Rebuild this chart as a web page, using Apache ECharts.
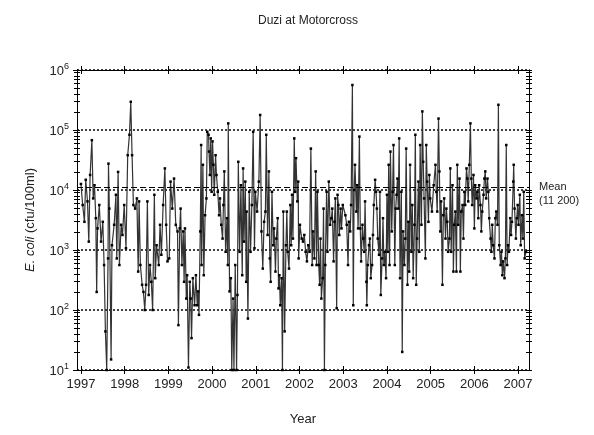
<!DOCTYPE html>
<html>
<head>
<meta charset="utf-8">
<script src="https://cdn.jsdelivr.net/npm/echarts@6/dist/echarts.min.js"></script>
<style>
  html, body { margin: 0; background: #fff; }
  #chart { width: 594px; height: 435px; }
</style>
</head>
<body>
<div id="chart"></div>
<script>
// axis ticks
const yearTicks = [1997, 1998, 1999, 2000, 2001, 2002, 2003, 2004, 2005, 2006, 2007]
const decadeTicks = [10, 100, 1000, 10000, 100000, 1000000]
const meanEcoli = 11200

// E. coli samples, [decimal year, cfu/100ml]
const s1997 = [[1997.00, 12600], [1997.04, 5620], [1997.08, 2950], [1997.11, 14800], [1997.15, 6460], [1997.18, 1380], [1997.21, 17800], [1997.25, 67600], [1997.28, 7240], [1997.31, 12000], [1997.34, 3390], [1997.36, 200], [1997.38, 2290], [1997.42, 5620], [1997.46, 1380], [1997.50, 2950], [1997.53, 562], [1997.56, 44], [1997.59, 10], [1997.62, 724], [1997.63, 27500], [1997.65, 4900], [1997.69, 15], [1997.71, 1200], [1997.76, 2630], [1997.80, 8320], [1997.82, 724], [1997.85, 20000], [1997.88, 562], [1997.92, 2630], [1997.95, 1780], [1997.99, 5620]]
const s1998 = [[1998.03, 1070], [1998.07, 38000], [1998.11, 83200], [1998.14, 295000], [1998.17, 38000], [1998.20, 5620], [1998.24, 4900], [1998.28, 7240], [1998.31, 437], [1998.33, 6460], [1998.36, 562], [1998.40, 263], [1998.43, 200], [1998.46, 100], [1998.49, 263], [1998.52, 6460], [1998.55, 178], [1998.58, 562], [1998.61, 295], [1998.64, 100], [1998.68, 8320], [1998.70, 339], [1998.73, 1200], [1998.78, 562], [1998.81, 2630], [1998.84, 832], [1998.88, 5620], [1998.92, 22900], [1998.95, 2630], [1998.98, 646]]
const s1999 = [[1999.02, 724], [1999.05, 13800], [1999.09, 4900], [1999.13, 15500], [1999.17, 2630], [1999.21, 2040], [1999.23, 56], [1999.26, 2290], [1999.28, 4900], [1999.31, 562], [1999.34, 2040], [1999.36, 295], [1999.38, 2290], [1999.41, 155], [1999.43, 380], [1999.46, 11], [1999.49, 295], [1999.51, 155], [1999.53, 34], [1999.56, 339], [1999.60, 120], [1999.63, 380], [1999.66, 120], [1999.68, 204], [1999.70, 83], [1999.73, 2040], [1999.75, 56200], [1999.76, 562], [1999.79, 26300], [1999.81, 380], [1999.84, 3800], [1999.87, 7240], [1999.89, 93300], [1999.92, 83200], [1999.93, 43700], [1999.95, 17800], [1999.97, 72400], [1999.99, 9330]]
const s2000 = [[2000.01, 64600], [2000.03, 26300], [2000.05, 8320], [2000.08, 38000], [2000.10, 17800], [2000.13, 9330], [2000.16, 3800], [2000.18, 7240], [2000.21, 2630], [2000.24, 1550], [2000.26, 5620], [2000.28, 20400], [2000.31, 933], [2000.34, 3390], [2000.36, 562], [2000.37, 129000], [2000.40, 204], [2000.43, 339], [2000.45, 10], [2000.48, 155], [2000.50, 10], [2000.53, 562], [2000.56, 10], [2000.58, 178], [2000.60, 29500], [2000.63, 933], [2000.66, 12000], [2000.69, 380], [2000.71, 22900], [2000.73, 1380], [2000.76, 13800], [2000.78, 295], [2000.79, 4370], [2000.82, 72], [2000.85, 9330], [2000.88, 933], [2000.91, 5620], [2000.94, 93300], [2000.97, 1070], [2000.99, 9330]]
const s2001 = [[2001.03, 4370], [2001.07, 13800], [2001.10, 178000], [2001.13, 2040], [2001.16, 490], [2001.19, 2950], [2001.22, 4370], [2001.24, 83200], [2001.27, 1780], [2001.30, 20400], [2001.32, 724], [2001.34, 295], [2001.37, 9330], [2001.40, 1200], [2001.42, 2290], [2001.45, 437], [2001.47, 1550], [2001.50, 3390], [2001.52, 229], [2001.54, 380], [2001.56, 120], [2001.59, 339], [2001.61, 10], [2001.63, 4370], [2001.66, 44], [2001.69, 1200], [2001.71, 4370], [2001.73, 933], [2001.76, 490], [2001.79, 5620], [2001.81, 1200], [2001.83, 8320], [2001.85, 1550], [2001.88, 72400], [2001.90, 9330], [2001.92, 33900], [2001.95, 6460], [2001.97, 13800], [2001.98, 724]]
const s2002 = [[2002.01, 2630], [2002.05, 1550], [2002.08, 1380], [2002.11, 1780], [2002.14, 933], [2002.17, 646], [2002.20, 1200], [2002.23, 933], [2002.26, 49000], [2002.29, 562], [2002.31, 2040], [2002.34, 724], [2002.37, 20400], [2002.39, 562], [2002.41, 9330], [2002.44, 562], [2002.46, 263], [2002.48, 1550], [2002.50, 155], [2002.53, 339], [2002.55, 4900], [2002.57, 10], [2002.59, 562], [2002.62, 9330], [2002.64, 933], [2002.67, 13800], [2002.70, 2630], [2002.73, 3390], [2002.75, 4900], [2002.78, 646], [2002.80, 2950], [2002.82, 7240], [2002.85, 107], [2002.87, 8320], [2002.89, 5620], [2002.91, 1780], [2002.94, 4900], [2002.96, 2290], [2002.99, 5620]]
const s2003 = [[2003.05, 3800], [2003.08, 2630], [2003.11, 562], [2003.13, 2950], [2003.16, 2040], [2003.18, 5620], [2003.21, 562000], [2003.23, 120], [2003.25, 10000], [2003.27, 26300], [2003.30, 4370], [2003.32, 12000], [2003.34, 2290], [2003.37, 77600], [2003.39, 2290], [2003.41, 646], [2003.44, 2630], [2003.46, 1550], [2003.48, 933], [2003.50, 6460], [2003.53, 295], [2003.54, 120], [2003.56, 562], [2003.59, 1200], [2003.61, 1550], [2003.63, 339], [2003.66, 562], [2003.68, 1780], [2003.70, 5620], [2003.73, 14800], [2003.75, 9330], [2003.77, 4900], [2003.79, 1550], [2003.82, 832], [2003.84, 9330], [2003.86, 178], [2003.89, 724], [2003.91, 3390], [2003.93, 562], [2003.95, 933], [2003.98, 339], [2004.00, 8320]]
const s2004 = [[2004.02, 933], [2004.04, 26300], [2004.06, 562], [2004.08, 43700], [2004.11, 2040], [2004.13, 9330], [2004.15, 56200], [2004.18, 562], [2004.20, 4900], [2004.22, 8320], [2004.24, 15500], [2004.26, 4900], [2004.28, 72400], [2004.30, 339], [2004.33, 9330], [2004.35, 20], [2004.37, 2040], [2004.40, 562], [2004.42, 1550], [2004.44, 49000], [2004.47, 263], [2004.49, 2950], [2004.51, 437], [2004.53, 26300], [2004.56, 933], [2004.58, 5620], [2004.60, 339], [2004.63, 2630], [2004.65, 83200], [2004.67, 263], [2004.69, 1550], [2004.72, 13800], [2004.74, 933], [2004.76, 56200], [2004.79, 2630], [2004.81, 204000], [2004.83, 29500], [2004.85, 7240], [2004.88, 724], [2004.90, 56200], [2004.92, 13800], [2004.95, 2950], [2004.97, 17800], [2004.99, 7240]]
const s2005 = [[2005.03, 4370], [2005.07, 12000], [2005.11, 26300], [2005.13, 9330], [2005.15, 4370], [2005.18, 155000], [2005.20, 20400], [2005.22, 2040], [2005.24, 6460], [2005.27, 263], [2005.29, 3800], [2005.31, 7240], [2005.34, 1550], [2005.36, 4900], [2005.38, 2950], [2005.40, 933], [2005.43, 1550], [2005.45, 22900], [2005.47, 933], [2005.50, 12000], [2005.52, 437], [2005.54, 2630], [2005.565, 4370], [2005.59, 437], [2005.61, 26300], [2005.63, 2630], [2005.66, 15500], [2005.68, 437], [2005.70, 4370], [2005.73, 5620], [2005.75, 1550], [2005.77, 9330], [2005.79, 5620], [2005.82, 22900], [2005.84, 15500], [2005.86, 6460], [2005.885, 26300], [2005.91, 129000], [2005.93, 15500], [2005.95, 5620], [2005.98, 17800]]
const s2006 = [[2006.00, 2290], [2006.02, 12000], [2006.05, 7240], [2006.07, 9330], [2006.09, 3390], [2006.11, 12000], [2006.14, 5620], [2006.16, 2040], [2006.18, 4370], [2006.21, 8320], [2006.23, 15500], [2006.25, 20400], [2006.27, 7240], [2006.30, 15500], [2006.32, 9330], [2006.34, 3390], [2006.37, 1550], [2006.39, 933], [2006.41, 2630], [2006.43, 1200], [2006.46, 724], [2006.48, 3390], [2006.50, 4370], [2006.53, 2630], [2006.55, 263000], [2006.57, 1200], [2006.60, 562], [2006.62, 933], [2006.64, 380], [2006.66, 646], [2006.69, 339], [2006.71, 724], [2006.73, 56200], [2006.75, 562], [2006.77, 1200], [2006.79, 933], [2006.82, 3390], [2006.84, 1780], [2006.86, 2950], [2006.89, 13800], [2006.90, 26300], [2006.92, 4900], [2006.95, 1550], [2006.97, 3390], [2006.99, 5620]]
const s2007 = [[2007.01, 2630], [2007.04, 8320], [2007.06, 1200], [2007.09, 3800], [2007.11, 1550], [2007.13, 9330], [2007.15, 724], [2007.18, 933]]

const samples = [].concat(s1997, s1998, s1999, s2000, s2001, s2002, s2003, s2004, s2005, s2006, s2007)

// 2..9 minor ticks between decades plus the decades themselves
const logTicks = []
decadeTicks.forEach((d, i) => {
  logTicks.push(d)
  if (i < decadeTicks.length - 1) {
    for (let k = 2; k <= 9; k++) logTicks.push(k * d)
  }
})

const font = "'Liberation Sans', Arial, sans-serif"
const chart = echarts.init(document.getElementById("chart"))

// main = labels + grid lines at decades only; the others only carry tick marks
function yAxisAt(position, inside, main) {
  return {
    type: "log",
    logBase: 10,
    min: 10,
    max: 1000000,
    position: position,
    axisLine: { show: true, lineStyle: { color: "#000", width: 1 } },
    axisTick: {
      show: true,
      inside: inside,
      length: main ? 4 : 3,
      customValues: main ? decadeTicks : logTicks,
      lineStyle: { color: "#000", width: 1 },
    },
    axisLabel: {
      show: main,
      customValues: decadeTicks,
      margin: 8,
      formatter: (v) => "{b|10}{e|" + Math.round(Math.log10(v)) + "}",
      rich: {
        b: { fontSize: 13, fontFamily: font, color: "#222", verticalAlign: "bottom" },
        e: { fontSize: 9, fontFamily: font, color: "#222", verticalAlign: "top", padding: [0, 0, 6, 0] },
      },
    },
    splitLine: main ? { show: true, lineStyle: { color: "#000", type: [2, 2], width: 1.5 } } : { show: false },
    minorSplitLine: { show: false },
    name: main ? "{i|E. coli} (cfu/100ml)" : "",
    nameLocation: "middle",
    nameGap: 40,
    nameRotate: 90,
    nameTextStyle: {
      fontSize: 13,
      fontFamily: font,
      color: "#222",
      rich: { i: { fontStyle: "italic", fontSize: 13, fontFamily: font, color: "#222" } },
    },
  }
}

function xAxisAt(position, inside, labels) {
  return {
    type: "value",
    min: 1996.91,
    max: 2007.25,
    position: position,
    axisLine: { show: true, lineStyle: { color: "#000", width: 1 } },
    axisTick: { show: true, inside: inside, length: 4, customValues: yearTicks, lineStyle: { color: "#000", width: 1 } },
    axisLabel: {
      show: labels,
      customValues: yearTicks,
      margin: 8,
      fontSize: 13,
      fontFamily: font,
      color: "#222",
      formatter: (v) => String(v),
    },
    splitLine: { show: false },
    name: labels ? "Year" : "",
    nameLocation: "middle",
    nameGap: 43,
    nameTextStyle: { fontSize: 13, fontFamily: font, color: "#222" },
  }
}

const option = {
  animation: false,
  backgroundColor: "#fff",
  title: {
    text: "Duzi at Motorcross",
    left: 303,
    textAlign: "center",
    top: 10,
    textStyle: { fontSize: 12, fontWeight: "normal", fontFamily: font, color: "#222" },
  },
  grid: { left: 77, right: 65, top: 70, bottom: 65 },
  xAxis: [
    xAxisAt("bottom", false, true),
    xAxisAt("bottom", true, false),
    xAxisAt("top", false, false),
    xAxisAt("top", true, false),
  ],
  yAxis: [
    yAxisAt("left", false, true),
    yAxisAt("left", true, false),
    yAxisAt("left", false, false),
    yAxisAt("right", false, false),
    yAxisAt("right", true, false),
  ],
  series: [
    {
      name: "E. coli",
      type: "line",
      xAxisIndex: 0,
      yAxisIndex: 0,
      data: samples,
      showAllSymbol: true,
      symbol: "rect",
      symbolSize: 2.5,
      itemStyle: { color: "#000" },
      lineStyle: { color: "#333", width: 1.2 },
      markLine: {
        silent: true,
        symbol: "none",
        data: [{ yAxis: meanEcoli }],
        lineStyle: { color: "#000", type: [6, 3], width: 1 },
        label: {
          position: "end",
          distance: 10,
          formatter: "\nMean\n(11 200)",
          fontSize: 11,
          lineHeight: 14,
          fontFamily: font,
          color: "#222",
        },
      },
    },
  ],
}

chart.setOption(option)
</script>
</body>
</html>
